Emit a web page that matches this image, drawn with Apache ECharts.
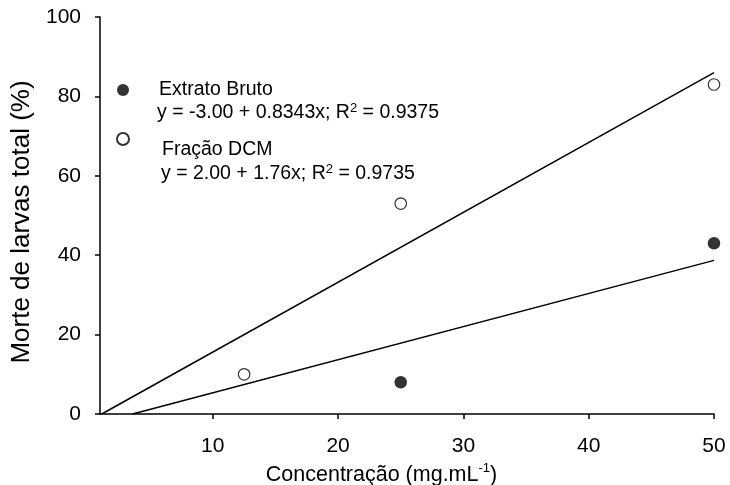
<!DOCTYPE html>
<html>
<head>
<meta charset="utf-8">
<script src="https://cdn.jsdelivr.net/npm/echarts@6/dist/echarts.min.js"></script>
<style>html,body{margin:0;padding:0;background:#fff}#c{width:730px;height:485px}</style>
</head>
<body>
<div id="c"></div>
<script>
// ---- data ----
const seriesNames = ['Extrato Bruto', 'Fração DCM'];
const extratoX = [25, 50];
const extratoY = [8, 43];
const dcmX = [12.5, 25, 50];
const dcmY = [10, 53, 83];
// regression line end points (as drawn)
const extratoFitX = [3.6, 50];
const extratoFitY = [0, 38.7];
const dcmFitX = [1.14, 50];
const dcmFitY = [0, 86];
const equations = ['y = -3.00 + 0.8343x; R', 'y = 2.00 + 1.76x; R'];
const r2Values = ['0.9375', '0.9735'];
const xTicks = [10, 20, 30, 40, 50];
const yTicks = [0, 20, 40, 60, 80, 100];
const xTitle = 'Concentração (mg.mL';
const yTitle = 'Morte de larvas total (%)';

const zip = (xs, ys) => xs.map((x, i) => [x, ys[i]]);
const FONT = '"Liberation Sans", Arial, sans-serif';

const chart = echarts.init(document.getElementById('c'), null, {renderer: 'canvas'});
chart.setOption({
  backgroundColor: '#fff',
  animation: false,
  textStyle: {fontFamily: FONT, color: '#000'},
  grid: {left: 100, right: 16, top: 17, bottom: 71, containLabel: false, outerBoundsMode: 'none'},
  xAxis: {
    type: 'value', min: 1, max: 50,
    splitLine: {show: false},
    axisLine: {lineStyle: {color: '#000', width: 1.5}},
    axisTick: {show: true, inside: false, length: 5, customValues: xTicks, lineStyle: {color: '#000', width: 1.5}},
    axisLabel: {customValues: xTicks, fontSize: 21, color: '#000', margin: 22, fontFamily: FONT},
    name: '{n|' + xTitle + '}{s|-1}{n|)}',
    nameLocation: 'middle', nameGap: 36,
    nameTextStyle: {
      padding: [0, 51, 0, 0],
      rich: {
        n: {fontSize: 21.5, fontFamily: FONT, color: '#000', lineHeight: 26},
        s: {fontSize: 13, fontFamily: FONT, color: '#000', verticalAlign: 'top', lineHeight: 26, padding: [0, 0, 0, 0]}
      }
    }
  },
  yAxis: {
    type: 'value', min: 0, max: 100, interval: 20,
    splitLine: {show: false},
    axisLine: {show: true, lineStyle: {color: '#000', width: 1.5}},
    axisTick: {show: true, inside: false, length: 5, lineStyle: {color: '#000', width: 1.5}},
    axisLabel: {fontSize: 21, color: '#000', margin: 19, fontFamily: FONT,
      formatter: v => (yTicks.indexOf(v) >= 0 ? String(v) : '')},
    name: yTitle, nameLocation: 'middle', nameRotate: 90, nameGap: 58,
    nameTextStyle: {fontSize: 26, fontFamily: FONT, color: '#000', padding: [0, 13, 0, 0]}
  },
  legend: {
    data: seriesNames,
    orient: 'vertical', left: 116, top: 80, padding: 0,
    itemWidth: 12, itemHeight: 12, itemGap: 32,
    icon: 'circle',
    formatter: name => (name === seriesNames[1] ? '{b|' + name + '}' : '{a|' + name + '}'),
    textStyle: {
      fontFamily: FONT, fontSize: 19.5, color: '#000',
      rich: {
        a: {fontFamily: FONT, fontSize: 19.5, color: '#000', padding: [0, 0, 0, 25]},
        b: {fontFamily: FONT, fontSize: 19.5, color: '#000', padding: [21, 0, 0, 28]}
      }
    }
  },
  graphic: [
    {type: 'text', left: 157, top: 102, silent: true,
      style: {text: '{n|' + equations[0] + '}{s|2}{n| = ' + r2Values[0] + '}', fill: '#000',
        rich: {n: {fontSize: 19.5, fontFamily: FONT, fill: '#000', lineHeight: 22},
               s: {fontSize: 13, fontFamily: FONT, fill: '#000', verticalAlign: 'top', lineHeight: 22}}}},
    {type: 'text', left: 161, top: 163, silent: true,
      style: {text: '{n|' + equations[1] + '}{s|2}{n| = ' + r2Values[1] + '}', fill: '#000',
        rich: {n: {fontSize: 19.5, fontFamily: FONT, fill: '#000', lineHeight: 22},
               s: {fontSize: 13, fontFamily: FONT, fill: '#000', verticalAlign: 'top', lineHeight: 22}}}}
  ],
  series: [
    {name: seriesNames[0], type: 'scatter', data: zip(extratoX, extratoY), symbol: 'circle', symbolSize: 12.5,
      itemStyle: {color: '#000', borderColor: '#000', borderWidth: 0}, z: 5},
    {name: seriesNames[1], type: 'scatter', data: zip(dcmX, dcmY), symbol: 'circle', symbolSize: 11.5,
      itemStyle: {color: '#fff', borderColor: '#000', borderWidth: 1.2}, z: 5},
    {type: 'line', data: zip(extratoFitX, extratoFitY), symbol: 'none', silent: true,
      lineStyle: {color: '#000', width: 1.5}, z: 3},
    {type: 'line', data: zip(dcmFitX, dcmFitY), symbol: 'none', silent: true,
      lineStyle: {color: '#000', width: 1.5}, z: 3}
  ]
});
</script>
</body>
</html>
